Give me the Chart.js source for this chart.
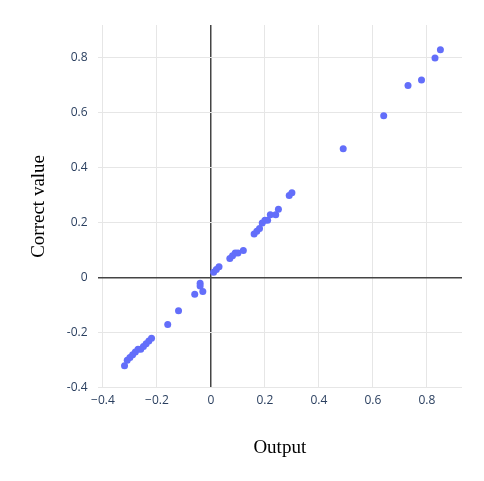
<!DOCTYPE html>
<html><head><meta charset="utf-8">
<script src="https://cdn.jsdelivr.net/npm/chart.js@4"></script>
<style>body{margin:0;background:#fff}#wrap{width:484px;height:481px}</style>
</head><body><div id="wrap"><canvas id="c"></canvas></div>
<script>
const outputVals = [-0.32,-0.31,-0.30,-0.29,-0.28,-0.27,-0.26,-0.25,-0.24,-0.23,-0.22,-0.16,-0.12,-0.06,-0.04,-0.04,-0.03,
  0.01,0.02,0.03,0.07,0.08,0.09,0.10,0.12,0.16,0.17,0.18,0.19,0.20,0.21,0.22,0.24,0.25,0.29,0.30,0.49,0.64,0.73,0.78,0.83,0.85];
const correctVals = [-0.32,-0.30,-0.29,-0.28,-0.27,-0.26,-0.26,-0.25,-0.24,-0.23,-0.22,-0.17,-0.12,-0.06,-0.02,-0.03,-0.05,
  0.02,0.03,0.04,0.07,0.08,0.09,0.09,0.10,0.16,0.17,0.18,0.20,0.21,0.21,0.23,0.23,0.25,0.30,0.31,0.47,0.59,0.70,0.72,0.80,0.83];

const zeroGrid = c => c.tick.value === 0 ? '#444' : '#e6e6e6';
const zeroWidth = c => c.tick.value === 0 ? 1.5 : 1;
const tickFont = { family: 'Open Sans', size: 12 };

new Chart(document.getElementById('c'), {
  type: 'scatter',
  data: { datasets: [{
    data: outputVals.map((x, i) => ({ x, y: correctVals[i] })),
    backgroundColor: '#636efa', borderWidth: 0, pointRadius: 3.5
  }]},
  options: {
    responsive: true, maintainAspectRatio: false, animation: false,
    layout: { padding: { top: 25, right: 22, bottom: 18, left: 24 } },
    plugins: { legend: { display: false }, tooltip: { enabled: false } },
    scales: {
      x: {
        min: -0.42, max: 0.93, afterBuildTicks: a => { a.ticks = [-0.4,-0.2,0,0.2,0.4,0.6,0.8].map(v => ({ value: v })); },
        grid: { color: zeroGrid, lineWidth: zeroWidth, drawTicks: false },
        border: { display: false },
        ticks: { color: '#2a3f5f', font: tickFont, padding: 6, callback: v => v === 0 ? '0' : (v < 0 ? '\u2212' + Math.abs(v) : v) },
        title: { display: true, text: 'Output', color: '#000', font: { family: 'Liberation Serif', size: 19 }, padding: { top: 22 } }
      },
      y: {
        min: -0.4, max: 0.92, afterBuildTicks: a => { a.ticks = [-0.4,-0.2,0,0.2,0.4,0.6,0.8].map(v => ({ value: v })); },
        grid: { color: zeroGrid, lineWidth: zeroWidth, drawTicks: false },
        border: { display: false },
        ticks: { color: '#2a3f5f', font: tickFont, padding: 10, callback: v => v === 0 ? '0' : v },
        title: { display: true, text: 'Correct value', color: '#000', font: { family: 'Liberation Serif', size: 19 }, padding: { bottom: 6 } }
      }
    }
  }
});
</script></body></html>
